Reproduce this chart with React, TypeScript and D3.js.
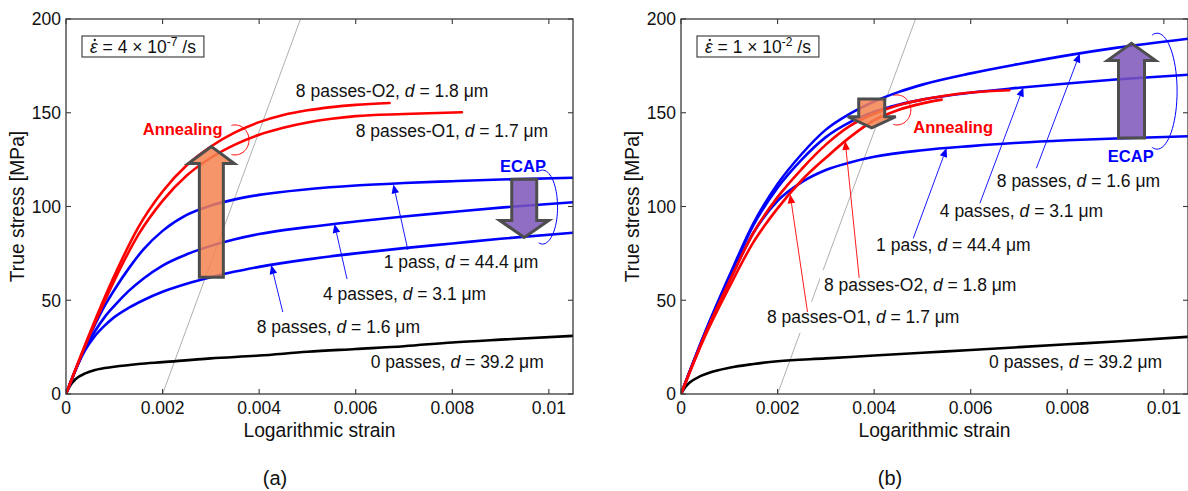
import React from 'react';
import * as d3 from 'd3';

type Pt = [number, number];

// ---------- axes ----------
const strainTicks = [0, 0.002, 0.004, 0.006, 0.008, 0.01];
const strainTickLabels = ['0', '0.002', '0.004', '0.006', '0.008', '0.01'];
const stressTicks = [0, 50, 100, 150, 200];
const stressTickLabels = ['0', '50', '100', '150', '200'];
const strainMax = 0.0105;
const stressMax = 200;
const xTitle = 'Logarithmic strain';
const yTitle = 'True stress [MPa]';

// 0.2 % offset line
const offsetStrain = 0.002;
const youngsModulus = 70000;

// ---------- (a) strain rate 4e-7 /s ----------
const slowPass0: Pt[] = [[0,0],[0.0001,5],[0.0002,8],[0.0004,11],[0.0006,12.8],[0.001,14.5],[0.0015,16],[0.002,17],[0.003,19],[0.004,20.5],[0.005,22.5],[0.006,24],[0.007,25.5],[0.008,27.5],[0.009,29],[0.0105,31]];
const slowPass8: Pt[] = [[0,0],[0.0002,13],[0.0004,23.5],[0.0006,31],[0.0008,36.5],[0.001,41],[0.0013,46],[0.0016,50],[0.002,54.5],[0.0025,58.8],[0.003,62.3],[0.0035,65.3],[0.004,67.8],[0.005,71.8],[0.006,75],[0.007,77.8],[0.008,80.3],[0.009,82.8],[0.0105,86]];
const slowPass4: Pt[] = [[0,0],[0.0002,13],[0.0004,24.5],[0.0006,33.5],[0.0008,41],[0.001,47],[0.0013,55],[0.0016,61.5],[0.002,68.5],[0.0025,74.5],[0.003,79],[0.0035,82.5],[0.004,85.3],[0.005,89],[0.006,92],[0.007,94.7],[0.008,97.1],[0.009,99.4],[0.0105,102.3]];
const slowPass1: Pt[] = [[0,0],[0.0002,13],[0.0004,25.5],[0.0006,37],[0.0008,47],[0.001,55.5],[0.0013,67],[0.0016,77],[0.002,87],[0.0025,95.5],[0.003,100.5],[0.0035,103.8],[0.004,106.2],[0.005,109.2],[0.006,111.2],[0.007,112.5],[0.008,113.5],[0.009,114.4],[0.0105,115.3]];
const slowO2: Pt[] = [[0,0],[0.0005,33],[0.001,63],[0.0015,89],[0.002,108],[0.0025,122],[0.003,132],[0.0035,139.5],[0.004,145],[0.0045,148.8],[0.005,151.3],[0.0055,153],[0.006,154.2],[0.0067,155.2]];
const slowO1: Pt[] = [[0,0],[0.0005,32],[0.001,60.5],[0.0015,85],[0.002,103],[0.0025,116.5],[0.003,126],[0.0035,133],[0.004,138.3],[0.0045,142],[0.005,144.8],[0.0055,146.8],[0.006,148.2],[0.007,149.3],[0.0082,150.3]];

// ---------- (b) strain rate 1e-2 /s ----------
const fastPass0: Pt[] = [[0,0],[0.0001,4],[0.0002,6.5],[0.0004,9.5],[0.0006,11.5],[0.001,14],[0.0015,16],[0.002,17.5],[0.003,19],[0.004,20.5],[0.005,22],[0.006,23.5],[0.007,25],[0.008,26.5],[0.009,28],[0.0105,30.5]];
const fastPass8: Pt[] = [[0,0],[0.0005,33],[0.001,63],[0.0015,91],[0.002,112],[0.0025,128],[0.003,141],[0.0035,149.5],[0.004,156],[0.0045,161],[0.005,165],[0.006,171],[0.007,176],[0.008,180.6],[0.009,184.6],[0.0105,189.5]];
const fastPass4: Pt[] = [[0,0],[0.0005,33],[0.001,62],[0.0015,90],[0.002,110],[0.0025,125],[0.003,137],[0.0035,145],[0.004,150.5],[0.0045,154.3],[0.005,157],[0.006,160.7],[0.007,163.3],[0.008,165.6],[0.009,167.7],[0.0105,170.3]];
const fastPass1: Pt[] = [[0,0],[0.0005,32],[0.001,60],[0.0015,86],[0.002,103],[0.0025,113],[0.003,119.5],[0.0035,123.5],[0.004,126.5],[0.005,130],[0.006,132.2],[0.007,134],[0.008,135.3],[0.009,136.3],[0.0105,137.5]];
const fastO2: Pt[] = [[0,0],[0.0005,32],[0.001,60],[0.0015,86],[0.002,105],[0.0025,120],[0.003,133],[0.0035,143],[0.004,149.5],[0.0045,154],[0.005,157],[0.0055,159.2],[0.006,160.8],[0.0068,162]];
const fastO1: Pt[] = [[0,0],[0.0005,31],[0.001,57],[0.0015,81],[0.002,99],[0.0025,114],[0.003,126],[0.0035,137],[0.004,146],[0.0045,151.5],[0.005,155],[0.0054,157]];

const slowRate = { mant: '4', exp: '-7' };
const fastRate = { mant: '1', exp: '-2' };

// ---------- styles ----------
const FONT = '"Liberation Sans", Arial, Helvetica, sans-serif';
const BLUE = '#0000ff';
const RED = '#ff0000';
const ORANGE = '#f3834f';
const PURPLE = '#7c55b9';
const AX = '#3a3a3a';
const TICK_FS = 17.5;
const LABEL_FS = 19.3;
const W = 507;
const TOP = 19;
const BOTTOM = 394;

type Part = { t: string; it?: boolean };
type Label = { parts: Part[]; at: Pt; bg?: boolean };
type Pointer = { from: Pt; tip: Pt; color: string };
type Block = { at: number; from: number; to: number; fill: string; shaft: number; head: number; headLen: number };
type Arc = { c: Pt; rx: number; ry: number; color: string };
type Word = { text: string; at: Pt; color: string };
type Series = { data: Pt[]; color: string };

const lab = (prefix: string, d: string, at: Pt, bg = false): Label => ({
  parts: [{ t: prefix }, { t: 'd', it: true }, { t: ` = ${d} μm` }],
  at,
  bg,
});

const slowSeries: Series[] = [
  { data: slowPass0, color: '#000' },
  { data: slowPass8, color: BLUE },
  { data: slowPass4, color: BLUE },
  { data: slowPass1, color: BLUE },
  { data: slowO1, color: RED },
  { data: slowO2, color: RED },
];
const fastSeries: Series[] = [
  { data: fastPass0, color: '#000' },
  { data: fastPass1, color: BLUE },
  { data: fastPass4, color: BLUE },
  { data: fastPass8, color: BLUE },
  { data: fastO1, color: RED },
  { data: fastO2, color: RED },
];

const slowLabels: Label[] = [
  lab('8 passes-O2, ', '1.8', [0.00476, 158.4]),
  lab('8 passes-O1, ', '1.7', [0.006, 137.1]),
  lab('1 pass, ', '44.4', [0.00658, 67.2]),
  lab('4 passes, ', '3.1', [0.00532, 50.1]),
  lab('8 passes, ', '1.6', [0.00395, 32.5]),
  lab('0 passes, ', '39.2', [0.00631, 14.0]),
];
const fastLabels: Label[] = [
  lab('8 passes, ', '1.6', [0.00654, 110.6]),
  lab('4 passes, ', '3.1', [0.00536, 94.2]),
  lab('1 pass, ', '44.4', [0.00404, 76.4]),
  lab('8 passes-O2, ', '1.8', [0.00296, 54.9], true),
  lab('8 passes-O1, ', '1.7', [0.00178, 38.0], true),
  lab('0 passes, ', '39.2', [0.00638, 13.7]),
];

const slowPointers: Pointer[] = [
  { from: [0.00708, 76.8], tip: [0.00678, 111.8], color: BLUE },
  { from: [0.00582, 61.3], tip: [0.00556, 90.7], color: BLUE },
  { from: [0.00449, 43.7], tip: [0.00425, 68.8], color: BLUE },
];
const fastPointers: Pointer[] = [
  { from: [0.00736, 120.4], tip: [0.00826, 181.6], color: BLUE },
  { from: [0.00619, 101.7], tip: [0.00709, 163.5], color: BLUE },
  { from: [0.00481, 83.0], tip: [0.0055, 131.2], color: BLUE },
  { from: [0.00369, 61.9], tip: [0.0034, 135.0], color: RED },
  { from: [0.00262, 43.7], tip: [0.00226, 106.5], color: RED },
];

const slowBlocks: Block[] = [
  { at: 0.00301, from: 62.3, to: 132.0, fill: ORANGE, shaft: 12, head: 23, headLen: 17 },
  { at: 0.00949, from: 114.5, to: 83.5, fill: PURPLE, shaft: 12.5, head: 24.5, headLen: 17 },
];
const fastBlocks: Block[] = [
  { at: 0.00395, from: 157.3, to: 142.0, fill: ORANGE, shaft: 13, head: 24, headLen: 11 },
  { at: 0.00933, from: 136.6, to: 187.0, fill: PURPLE, shaft: 13, head: 24, headLen: 17 },
];

const slowArcs: Arc[] = [
  { c: [0.0035, 135.5], rx: 14, ry: 15, color: RED },
  { c: [0.00987, 99.7], rx: 15, ry: 37, color: BLUE },
];
const fastArcs: Arc[] = [
  { c: [0.00447, 151.5], rx: 14, ry: 15, color: RED },
  { c: [0.00986, 161.5], rx: 20, ry: 58, color: BLUE },
];

const slowWords: Word[] = [
  { text: 'Annealing', at: [0.00159, 138.1], color: RED },
  { text: 'ECAP', at: [0.00899, 118.6], color: BLUE },
];
const fastWords: Word[] = [
  { text: 'Annealing', at: [0.00481, 139.4], color: RED },
  { text: 'ECAP', at: [0.00884, 123.9], color: BLUE },
];

// ---------- helpers ----------
let ctx: CanvasRenderingContext2D | null = null;
function measure(parts: Part[], size: number): number {
  if (!ctx && typeof document !== 'undefined') ctx = document.createElement('canvas').getContext('2d');
  if (!ctx) return parts.reduce((s, p) => s + p.t.length * size * 0.5, 0);
  let w = 0;
  for (const p of parts) {
    ctx.font = `${p.it ? 'italic ' : ''}${size}px ${FONT}`;
    w += ctx.measureText(p.t).width;
  }
  return w;
}

type PanelProps = {
  id: string;
  x0: number;
  series: Series[];
  labels: Label[];
  pointers: Pointer[];
  blocks: Block[];
  arcs: Arc[];
  words: Word[];
  rate: { mant: string; exp: string };
  tag: string;
};

function Panel(p: PanelProps) {
  const x = d3.scaleLinear().domain([0, strainMax]).range([p.x0, p.x0 + W]);
  const y = d3.scaleLinear().domain([0, stressMax]).range([BOTTOM, TOP]);
  const line = d3
    .line<Pt>()
    .x((d) => x(d[0]))
    .y((d) => y(d[1]))
    .curve(d3.curveMonotoneX);
  const clipId = `clip-${p.id}`;
  const offTop = offsetStrain + stressMax / youngsModulus;

  const epsW = measure([{ t: '\u03B5', it: true }], TICK_FS);
  const restParts: Part[] = [{ t: ` = ${p.rate.mant} × 10` }];
  const rateW = epsW + measure(restParts, TICK_FS) + measure([{ t: p.rate.exp }], 12) + measure([{ t: ' /s' }], TICK_FS);
  const boxX = p.x0 + 16;
  const boxY = 36;
  const txtX = boxX + 8;
  const txtY = boxY + 16.5;

  const arcPath = (a: Arc) => {
    const cx = x(a.c[0]);
    const cy = y(a.c[1]);
    const pts: Pt[] = d3.range(-105, 106, 5).map((deg) => {
      const t = (deg * Math.PI) / 180;
      return [cx + a.rx * Math.cos(t), cy + a.ry * Math.sin(t)];
    });
    return d3.line<Pt>().curve(d3.curveCardinal)(pts) || '';
  };

  const blockPoly = (b: Block) => {
    const cx = x(b.at);
    const yb = y(b.from);
    const yt = y(b.to);
    const dir = yt < yb ? -1 : 1;
    const base = yt - dir * b.headLen;
    const pts = [
      [cx - b.shaft, yb],
      [cx - b.shaft, base],
      [cx - b.head, base],
      [cx, yt],
      [cx + b.head, base],
      [cx + b.shaft, base],
      [cx + b.shaft, yb],
    ];
    return pts.map((q) => q.join(',')).join(' ');
  };

  const pointerEls = p.pointers.map((pt, i) => {
    const x1 = x(pt.from[0]);
    const y1 = y(pt.from[1]);
    const x2 = x(pt.tip[0]);
    const y2 = y(pt.tip[1]);
    const ang = Math.atan2(y2 - y1, x2 - x1);
    const L = 9;
    const H = 3.8;
    const bx = x2 - L * Math.cos(ang);
    const by = y2 - L * Math.sin(ang);
    const nx = -Math.sin(ang) * H;
    const ny = Math.cos(ang) * H;
    return (
      <g key={i}>
        <line x1={x1} y1={y1} x2={bx} y2={by} stroke={pt.color} strokeWidth={0.9} />
        <polygon points={`${x2},${y2} ${bx + nx},${by + ny} ${bx - nx},${by - ny}`} fill={pt.color} />
      </g>
    );
  });

  return (
    <g fontFamily={FONT}>
      <defs>
        <clipPath id={clipId}>
          <rect x={p.x0} y={TOP} width={W} height={BOTTOM - TOP} />
        </clipPath>
      </defs>
      <rect x={p.x0} y={TOP} width={W} height={BOTTOM - TOP} fill="#fff" />
      <g clipPath={`url(#${clipId})`}>
        <line x1={x(offsetStrain)} y1={y(0)} x2={x(offTop)} y2={y(stressMax)} stroke="#9a9a9a" strokeWidth={0.8} />
        {p.series.map((s, i) => (
          <path key={i} d={line(s.data) || ''} fill="none" stroke={s.color} strokeWidth={2.6} strokeLinejoin="round" strokeLinecap="round" />
        ))}
      </g>
      {p.labels.map((l, i) => {
        const lx = x(l.at[0]);
        const ly = y(l.at[1]);
        const w = measure(l.parts, TICK_FS);
        return (
          <g key={i}>
            {l.bg && <rect x={lx - 4} y={ly - 21} width={w + 8} height={31} fill="#fff" />}
            <text x={lx} y={ly} fontSize={TICK_FS} fill="#111" style={{ whiteSpace: 'pre' }}>
              {l.parts.map((pt, j) => (
                <tspan key={j} fontStyle={pt.it ? 'italic' : 'normal'}>
                  {pt.t}
                </tspan>
              ))}
            </text>
          </g>
        );
      })}
      {pointerEls}
      {p.arcs.map((a, i) => (
        <path key={i} d={arcPath(a)} fill="none" stroke={a.color} strokeWidth={1} />
      ))}
      {p.blocks.map((b, i) => (
        <polygon key={i} points={blockPoly(b)} fill={b.fill} fillOpacity={0.85} stroke="#4d4d4d" strokeWidth={3} strokeLinejoin="miter" />
      ))}
      {p.words.map((w, i) => (
        <text key={i} x={x(w.at[0])} y={y(w.at[1])} fontSize={16.5} fontWeight="bold" fill={w.color}>
          {w.text}
        </text>
      ))}
      <rect x={p.x0} y={TOP} width={W} height={BOTTOM - TOP} fill="none" stroke={AX} strokeWidth={1.3} />
      {strainTicks.map((t, i) => (
        <g key={'xt' + i}>
          <line x1={x(t)} x2={x(t)} y1={BOTTOM} y2={BOTTOM - 5} stroke={AX} strokeWidth={1.1} />
          <line x1={x(t)} x2={x(t)} y1={TOP} y2={TOP + 5} stroke={AX} strokeWidth={1.1} />
          <text x={x(t)} y={414} fontSize={TICK_FS} textAnchor="middle" fill="#111">
            {strainTickLabels[i]}
          </text>
        </g>
      ))}
      {stressTicks.map((t, i) => (
        <g key={'yt' + i}>
          <line x1={p.x0} x2={p.x0 + 5} y1={y(t)} y2={y(t)} stroke={AX} strokeWidth={1.1} />
          <line x1={p.x0 + W} x2={p.x0 + W - 5} y1={y(t)} y2={y(t)} stroke={AX} strokeWidth={1.1} />
          <text x={p.x0 - 5} y={y(t)} dy="0.36em" fontSize={TICK_FS} textAnchor="end" fill="#111">
            {stressTickLabels[i]}
          </text>
        </g>
      ))}
      <text x={p.x0 + W / 2} y={437} fontSize={LABEL_FS} textAnchor="middle" fill="#111">
        {xTitle}
      </text>
      <text transform={`translate(${p.x0 - 42},${(TOP + BOTTOM) / 2}) rotate(-90)`} fontSize={LABEL_FS} textAnchor="middle" fill="#111">
        {yTitle}
      </text>
      <rect x={boxX} y={boxY} width={rateW + 16} height={21} fill="#fff" stroke="#333" strokeWidth={1.1} />
      <text x={txtX} y={txtY} fontSize={TICK_FS} fill="#111" style={{ whiteSpace: 'pre' }}>
        <tspan fontStyle="italic">{'\u03B5'}</tspan>
        <tspan>{` = ${p.rate.mant} × 10`}</tspan>
        <tspan fontSize={12} dy={-7}>
          {p.rate.exp}
        </tspan>
        <tspan dy={7}>{' /s'}</tspan>
      </text>
      <circle cx={txtX + epsW * 0.62} cy={txtY - 12.5} r={1.15} fill="#111" />
      <text x={p.x0 + 209} y={485} fontSize={20} textAnchor="middle" fill="#111">
        {p.tag}
      </text>
    </g>
  );
}

export default function App() {
  return (
    <svg width={1188} height={491} style={{ position: 'absolute', left: 0, top: 0, background: '#fff' }}>
      <rect width={1188} height={491} fill="#fff" />
      <Panel id="a" x0={66} series={slowSeries} labels={slowLabels} pointers={slowPointers} blocks={slowBlocks} arcs={slowArcs} words={slowWords} rate={slowRate} tag="(a)" />
      <Panel id="b" x0={681} series={fastSeries} labels={fastLabels} pointers={fastPointers} blocks={fastBlocks} arcs={fastArcs} words={fastWords} rate={fastRate} tag="(b)" />
    </svg>
  );
}
